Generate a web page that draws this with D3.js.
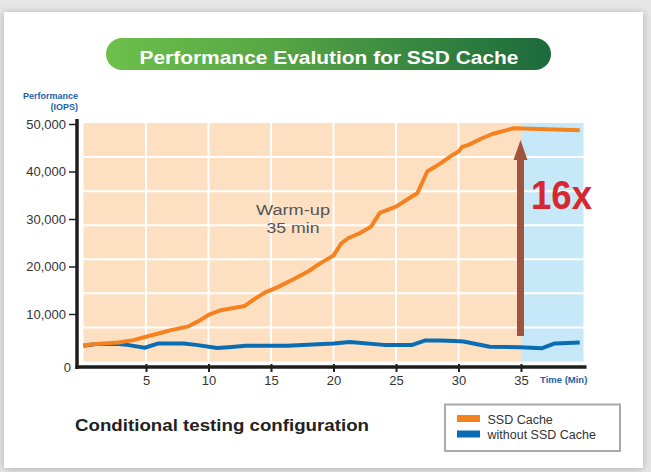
<!DOCTYPE html>
<html>
<head>
<meta charset="utf-8">
<script src="https://cdn.jsdelivr.net/npm/d3@7/dist/d3.min.js"></script>
<style>
  html, body { margin: 0; padding: 0; background: #e6e6e6; }
  svg { display: block; }
  text { font-family: Arial, "Liberation Sans", sans-serif; }
</style>
</head>
<body>
<svg id="chart" width="651" height="472"></svg>
<script>
// ---------- data ----------
const seriesNames = ["SSD Cache", "without SSD Cache"];
const ssdTime = [0, 1, 2.8, 4, 5, 6, 7, 8.4, 9.2, 10, 11, 12.9, 13.7, 14.5, 15.5, 16.8, 18, 18.9, 20, 20.6, 21.2, 22.1, 23, 23.7, 25, 26.3, 26.7, 27.5, 28.5, 29.3, 30, 30.3, 30.8, 31.8, 32.7, 34.4, 39.7];
const ssdIops = [3400, 3700, 4000, 4500, 5200, 5900, 6600, 7400, 8500, 9800, 10800, 11700, 13200, 14500, 15600, 17300, 19000, 20600, 22300, 24800, 26000, 27000, 28400, 31300, 32600, 34800, 35400, 40000, 41600, 43100, 44200, 45200, 45600, 46900, 47900, 49100, 48700];
const baseTime = [0, 1, 2.8, 3.5, 4.9, 6, 8, 9, 10.7, 11.6, 13, 16.3, 20, 21.3, 24, 26.3, 27.3, 28.5, 29.7, 30.4, 32.5, 34.9, 36.7, 37.7, 39.7];
const baseIops = [3300, 3700, 3700, 3500, 2900, 3800, 3800, 3500, 2850, 3000, 3300, 3300, 3800, 4100, 3500, 3500, 4400, 4400, 4300, 4200, 3100, 3000, 2800, 3800, 4000];
const xTicks = [5, 10, 15, 20, 25, 30, 35];
const yTicks = [10000, 20000, 30000, 40000, 50000];
const warmupEnd = 35;
const timeMax = 40;
const bandTop = 50200;
const gridBands = 7;
const speedupLabel = "16x";

// ---------- setup ----------
const svg = d3.select("#chart");
const x = d3.scaleLinear().domain([0, timeMax]).range([83.5, 583.5]);
const y = d3.scaleLinear().domain([0, 50000]).range([361.5, 124]);
const axisY = 367;
const axisX = 77;

const defs = svg.append("defs");
const shadow = defs.append("filter").attr("id", "shadow").attr("x", "-5%").attr("y", "-5%").attr("width", "110%").attr("height", "110%");
shadow.append("feGaussianBlur").attr("in", "SourceAlpha").attr("stdDeviation", 4);
shadow.append("feOffset").attr("dx", 0).attr("dy", 1).attr("result", "b");
shadow.append("feComponentTransfer").append("feFuncA").attr("type", "linear").attr("slope", 0.25);
const fm = shadow.append("feMerge");
fm.append("feMergeNode");
fm.append("feMergeNode").attr("in", "SourceGraphic");

const grad = defs.append("linearGradient").attr("id", "titleGrad").attr("x1", "0%").attr("x2", "100%");
grad.append("stop").attr("offset", "0%").attr("stop-color", "#6cc04a");
grad.append("stop").attr("offset", "35%").attr("stop-color", "#5aa845");
grad.append("stop").attr("offset", "100%").attr("stop-color", "#1b6a3c");

// card
svg.append("rect").attr("x", 4).attr("y", 12).attr("width", 639).attr("height", 456)
  .attr("fill", "#ffffff").attr("filter", "url(#shadow)");

// title pill
svg.append("rect").attr("x", 106).attr("y", 38).attr("width", 445).attr("height", 32)
  .attr("rx", 16).attr("fill", "url(#titleGrad)");
svg.append("text").attr("x", 329).attr("y", 63.5).attr("text-anchor", "middle")
  .attr("fill", "#ffffff").attr("font-size", 19).attr("font-weight", "bold")
  .attr("textLength", 379).attr("lengthAdjust", "spacingAndGlyphs")
  .text("Performance Evalution for SSD Cache");

// background regions
svg.append("rect").attr("x", x(0)).attr("y", y(bandTop))
  .attr("width", x(warmupEnd) - x(0)).attr("height", y(0) - y(bandTop)).attr("fill", "#fde0c2");
svg.append("rect").attr("x", x(warmupEnd)).attr("y", y(bandTop))
  .attr("width", x(timeMax) - x(warmupEnd)).attr("height", y(0) - y(bandTop)).attr("fill", "#c6e8f8");

// gridlines
const gridVals = d3.range(1, gridBands).map(i => bandTop * i / gridBands);
svg.append("g").selectAll("line").data(gridVals).join("line")
  .attr("x1", x(0)).attr("x2", x(timeMax)).attr("y1", d => y(d)).attr("y2", d => y(d))
  .attr("stroke", "#ffffff").attr("stroke-width", 2);
svg.append("g").selectAll("line").data(xTicks.filter(t => t < warmupEnd)).join("line")
  .attr("x1", d => x(d)).attr("x2", d => x(d)).attr("y1", y(bandTop)).attr("y2", y(0))
  .attr("stroke", "#ffffff").attr("stroke-width", 2);

// lines
const line = d3.line().x(d => x(d[0])).y(d => y(d[1]));
const baseData = baseTime.map((t, i) => [t, baseIops[i]]);
const ssdData = ssdTime.map((t, i) => [t, ssdIops[i]]);
svg.append("path").datum(baseData).attr("d", line).attr("fill", "none")
  .attr("stroke", "#0a6db3").attr("stroke-width", 4).attr("stroke-linejoin", "round");
svg.append("path").datum(ssdData).attr("d", line).attr("fill", "none")
  .attr("stroke", "#f5821f").attr("stroke-width", 4).attr("stroke-linejoin", "round");

// axes
const yAxis = d3.axisLeft(y).tickValues(yTicks).tickSize(8).tickPadding(3).tickFormat(d3.format(","));
const gy = svg.append("g").attr("transform", `translate(${axisX},0)`).call(yAxis);
gy.select(".domain").remove();
gy.selectAll(".tick line").attr("stroke", "#222").attr("stroke-width", 1.5);
gy.selectAll(".tick text").attr("font-size", 13).attr("fill", "#333").attr("font-family", "Arial, 'Liberation Sans', sans-serif");
svg.append("line").attr("x1", axisX).attr("x2", axisX).attr("y1", 119).attr("y2", axisY + 2)
  .attr("stroke", "#1e1e1e").attr("stroke-width", 3.5);
svg.append("text").attr("x", 71).attr("y", axisY + 5).attr("text-anchor", "end")
  .attr("font-size", 13).attr("fill", "#333").text("0");

const xAxis = d3.axisBottom(x).tickValues(xTicks).tickSize(5).tickPadding(4);
const gx = svg.append("g").attr("transform", `translate(0,${axisY})`).call(xAxis);
gx.select(".domain").remove();
gx.selectAll(".tick line").attr("stroke", "#222").attr("stroke-width", 2).attr("y1", -3);
gx.selectAll(".tick text").attr("font-size", 13).attr("fill", "#333").attr("font-family", "Arial, 'Liberation Sans', sans-serif");
svg.append("line").attr("x1", axisX - 1.5).attr("x2", 586.5).attr("y1", axisY).attr("y2", axisY)
  .attr("stroke", "#1e1e1e").attr("stroke-width", 3.5);

// axis titles
svg.append("text").attr("x", 78).attr("y", 98.5).attr("text-anchor", "end")
  .attr("font-size", 9).attr("font-weight", "bold").attr("fill", "#1b62ad").text("Performance");
svg.append("text").attr("x", 78).attr("y", 110).attr("text-anchor", "end")
  .attr("font-size", 9).attr("font-weight", "bold").attr("fill", "#1b62ad").text("(IOPS)");
svg.append("text").attr("x", 540).attr("y", 382.5)
  .attr("font-size", 9.5).attr("font-weight", "bold").attr("fill", "#1b62ad").text("Time (Min)");

// annotation text
svg.append("text").attr("x", 293).attr("y", 215).attr("text-anchor", "middle")
  .attr("font-size", 15.5).attr("fill", "#555")
  .attr("textLength", 74).attr("lengthAdjust", "spacingAndGlyphs").text("Warm-up");
svg.append("text").attr("x", 293).attr("y", 233).attr("text-anchor", "middle")
  .attr("font-size", 15.5).attr("fill", "#555")
  .attr("textLength", 53).attr("lengthAdjust", "spacingAndGlyphs").text("35 min");

// arrow
const arrowX = x(warmupEnd) - 0.5;
const arrowBottom = 336, arrowTip = 140, headBase = 160;
svg.append("rect").attr("x", arrowX - 3.5).attr("y", headBase - 1).attr("width", 7)
  .attr("height", arrowBottom - headBase + 1).attr("fill", "#a1533e");
svg.append("path")
  .attr("d", `M${arrowX - 7},${headBase} L${arrowX},${arrowTip} L${arrowX + 7},${headBase} Z`)
  .attr("fill", "#a1533e");
svg.append("text").attr("x", 531).attr("y", 209).attr("font-size", 40).attr("font-weight", "bold")
  .attr("fill", "#d7282f").attr("textLength", 61).attr("lengthAdjust", "spacingAndGlyphs")
  .text(speedupLabel);

// bottom caption
svg.append("text").attr("x", 75).attr("y", 431).attr("font-size", 17).attr("font-weight", "bold")
  .attr("fill", "#222").attr("textLength", 294).attr("lengthAdjust", "spacingAndGlyphs")
  .text("Conditional testing configuration");

// legend
svg.append("rect").attr("x", 445).attr("y", 404.5).attr("width", 175).attr("height", 46.5)
  .attr("fill", "#ffffff").attr("stroke", "#aaaaaa").attr("stroke-width", 2);
const legendColors = ["#f5821f", "#0a6db3"];
const lg = svg.append("g").selectAll("g").data(seriesNames).join("g")
  .attr("transform", (d, i) => `translate(457,${415 + i * 15.5})`);
lg.append("rect").attr("width", 23).attr("height", 7).attr("fill", (d, i) => legendColors[i]);
lg.append("text").attr("x", 30.5).attr("y", 8.5).attr("font-size", 12.5).attr("fill", "#333").text(d => d);
</script>
</body>
</html>
